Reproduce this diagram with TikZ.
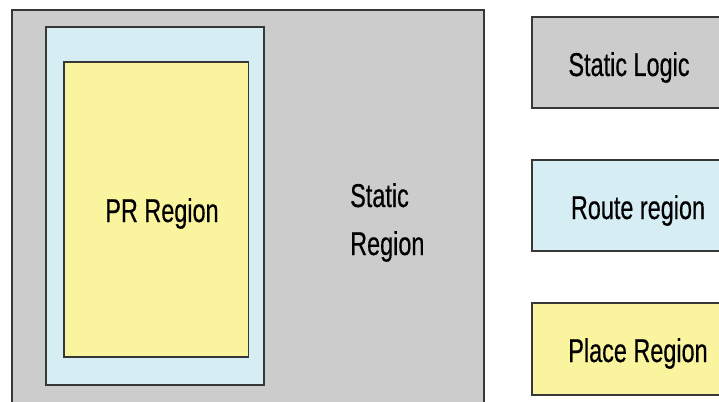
\documentclass[tikz,border=0pt]{standalone}
\usepackage{fontspec}
\newfontfamily\condfont[FakeStretch=0.71,FakeBold=0.4]{Liberation Sans}
\definecolor{staticgray}{RGB}{204,204,204}
\definecolor{routeblue}{RGB}{213,237,243}
\definecolor{placeyellow}{RGB}{250,244,158}
\definecolor{edgegray}{RGB}{55,55,55}
\tikzset{
  regionbox/.style={draw=edgegray, line width=1.3pt},
  lbl/.style={font=\condfont\fontsize{33}{48}\selectfont, text=black, inner sep=0pt},
}
\begin{document}
\begin{tikzpicture}[x=1pt,y=-1pt]
\useasboundingbox (0,0) rectangle (719,401);
\clip (0,0) rectangle (719,401);
\fill[white] (0,0) rectangle (719,401);
% main regions
\draw[regionbox, fill=staticgray] (12,10) rectangle (484,420);
\draw[regionbox, fill=routeblue] (46,27) rectangle (264,385);
\draw[regionbox, fill=placeyellow] (64,62) rectangle (248.5,357);
\node[lbl, anchor=base] (pr) at (162,222) {PR Region};
\node[lbl, anchor=base west] (st1) at (350,207) {Static};
\node[lbl, anchor=base west] (st2) at (350,255) {Region};
% legend
\draw[regionbox, fill=staticgray] (532,17) rectangle (740,108);
\node[lbl, anchor=base] (lg1) at (629,76) {Static Logic};
\draw[regionbox, fill=routeblue] (532,160) rectangle (740,251);
\node[lbl, anchor=base] (lg2) at (638,219) {Route region};
\draw[regionbox, fill=placeyellow] (532,303) rectangle (740,395);
\node[lbl, anchor=base] (lg3) at (638,362) {Place Region};
\end{tikzpicture}
\end{document}
